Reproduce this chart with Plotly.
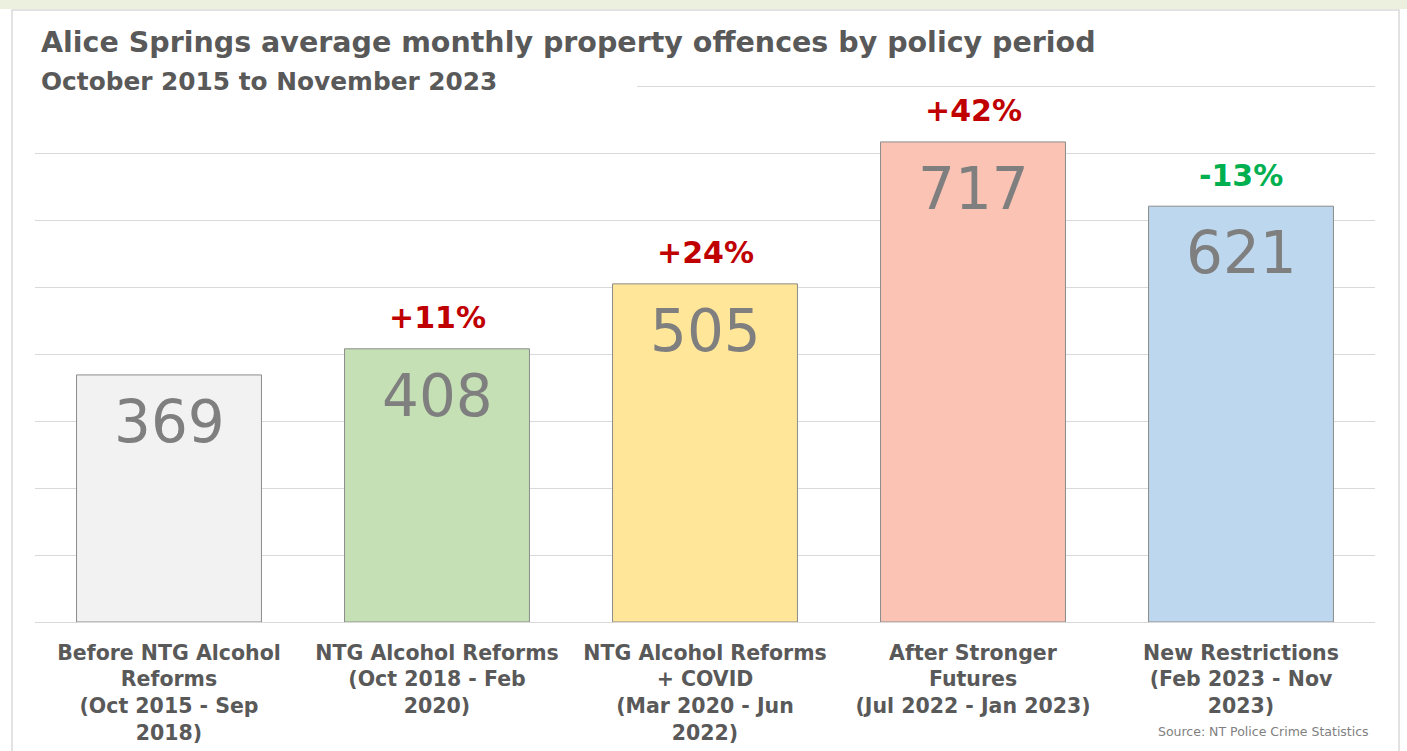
import plotly.graph_objects as go

W, H = 1407, 751

categories = [
    "Before NTG Alcohol<br>Reforms<br>(Oct 2015 - Sep<br>2018)",
    "NTG Alcohol Reforms<br>(Oct 2018 - Feb<br>2020)",
    "NTG Alcohol Reforms<br>+ COVID<br>(Mar 2020 - Jun<br>2022)",
    "After Stronger<br>Futures<br>(Jul 2022 - Jan 2023)",
    "New Restrictions<br>(Feb 2023 - Nov<br>2023)",
]
values = [369, 408, 505, 717, 621]
pct_labels = ["", "+11%", "+24%", "+42%", "-13%"]
bar_colors = ["#f2f2f2", "#c5e0b4", "#ffe699", "#fbc3b4", "#bdd7ee"]
grid_ticks = [0, 100, 200, 300, 400, 500, 600, 700, 800]

fig = go.Figure()
fig.add_trace(go.Bar(
    x=categories, y=values,
    marker=dict(color=bar_colors, line=dict(color="#8c8c8c", width=1)),
    hoverinfo="skip",
))

def px_x(p):
    return p / W

def px_y(p):
    return 1 - p / H

annotations = []
for c, v, p in zip(categories, values, pct_labels):
    annotations.append(dict(
        x=c, y=v, xref="x", yref="y", text=str(v), showarrow=False,
        yanchor="middle", yshift=-47,
        font=dict(family="DejaVu Sans", size=58, color="#7f7f7f"),
    ))
    if p:
        col = "#00b050" if p.startswith("-") else "#c00000"
        annotations.append(dict(
            x=c, y=v, xref="x", yref="y", text=f"<b>{p}</b>", showarrow=False,
            yanchor="middle", yshift=31,
            font=dict(family="DejaVu Sans", size=30, color=col),
        ))

annotations += [
    dict(x=px_x(39), y=px_y(43), xref="paper", yref="paper", xanchor="left", yanchor="middle",
         text="<b>Alice Springs average monthly property offences by policy period</b>",
         showarrow=False, font=dict(family="DejaVu Sans", size=28.5, color="#595959")),
    dict(x=px_x(39), y=px_y(81), xref="paper", yref="paper", xanchor="left", yanchor="middle",
         text="<b>October 2015 to November 2023</b>",
         showarrow=False, font=dict(family="DejaVu Sans", size=24.8, color="#595959")),
    dict(x=px_x(1371), y=px_y(731), xref="paper", yref="paper", xanchor="right", yanchor="middle",
         text="Source: NT Police Crime Statistics",
         showarrow=False, font=dict(family="DejaVu Sans", size=12.5, color="#808080")),
]

shapes = [
    dict(type="rect", xref="paper", yref="paper", x0=0, x1=1, y0=px_y(9), y1=1,
         fillcolor="#ebf1de", line=dict(width=0), layer="below"),
    dict(type="rect", xref="paper", yref="paper", x0=px_x(12), x1=px_x(1399), y0=-0.02, y1=px_y(10),
         fillcolor="rgba(0,0,0,0)", line=dict(color="#d9d9d9", width=1.5), layer="above"),
    dict(type="rect", xref="paper", yref="paper", x0=px_x(33), x1=px_x(637), y0=px_y(92), y1=px_y(80),
         fillcolor="white", line=dict(width=0), layer="above"),
]

fig.update_layout(
    width=W, height=H,
    margin=dict(l=0, r=0, t=0, b=0),
    paper_bgcolor="white", plot_bgcolor="white",
    showlegend=False,
    bargap=0.31,
    annotations=annotations,
    shapes=shapes,
    xaxis=dict(
        domain=[px_x(35), px_x(1375)],
        showline=True, linecolor="#d9d9d9", linewidth=1,
        showgrid=False, ticks="", ticklen=0,
        ticklabelstandoff=12,
        tickfont=dict(family="DejaVu Sans", size=20.5, color="#595959"),
        tickprefix="<b>", ticksuffix="</b>",
    ),
    yaxis=dict(
        domain=[px_y(622), px_y(85)],
        range=[0, 802], tickvals=grid_ticks,
        showticklabels=False, showgrid=True, gridcolor="#d9d9d9", gridwidth=1,
        zeroline=False, showline=False,
    ),
)

fig.write_html("out.html", config={"displayModeBar": False},
               post_script="document.body.style.margin='0';document.body.style.padding='0';")
